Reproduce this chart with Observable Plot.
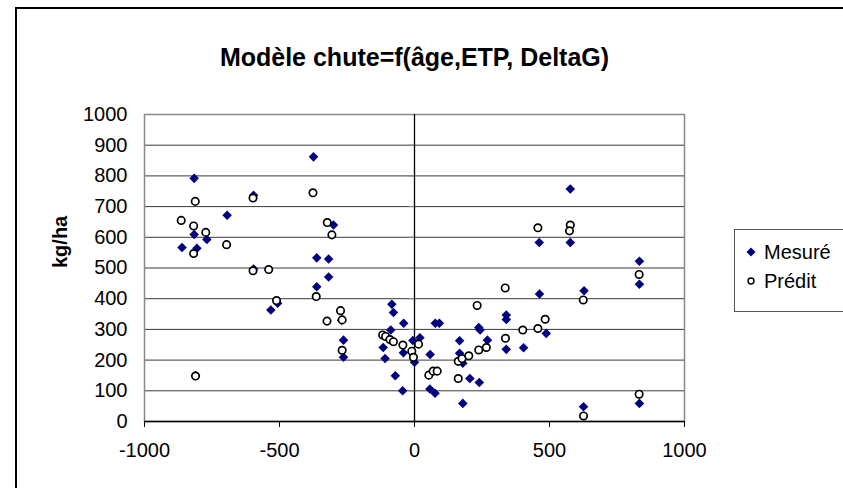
<!DOCTYPE html>
<html>
<head>
<meta charset="utf-8">
<script src="https://cdn.jsdelivr.net/npm/d3@7"></script>
<script src="https://cdn.jsdelivr.net/npm/@observablehq/plot@0.6"></script>
<style>
  html, body { margin: 0; padding: 0; background: #fff; overflow: hidden; }
  #wrap { position: relative; width: 843px; height: 488px; font-family: "Liberation Sans", Arial, sans-serif; }
  #outer { position: absolute; left: 15px; top: 7px; width: 900px; height: 600px; border-left: 2px solid #000; border-top: 2px solid #000; box-sizing: border-box; }
  #legend { position: absolute; left: 734px; top: 229px; width: 130px; height: 83px; border: 1px solid #555; box-sizing: border-box; background: #fff; }
  .item { position: absolute; left: 0; height: 26px; display: flex; align-items: center; font-size: 20px; }
  .item svg { margin-left: 10px; margin-right: 7px; }
</style>
</head>
<body>
<div id="wrap">
  <div id="outer"></div>
  <div id="chart"></div>
  <div id="legend"></div>
</div>
<script>
const title = "Modèle chute=f(âge,ETP, DeltaG)";
const yLabel = "kg/ha";
const seriesNames = ["Mesuré", "Prédit"];
const xTicks = [-1000, -500, 0, 500, 1000];
const yTicks = [0, 100, 200, 300, 400, 500, 600, 700, 800, 900, 1000];

// Mesuré (x, y)
const mesureX = [-816, -596, -694, -374, -300, -816, -769, -861, -806, -362, -318, -318, -362, -596, -532, -507, -270, -263, -263, -811,
  -84, -78, -40, -88, -116, -109, -71, -44, -41, -6, 0, 20, 58, 77, 92, 57, 76, 167, 167, 179, 179, 205, 240, 238, 243, 270, 340, 340, 340, 404, 463, 488,
  577, 462, 577, 833, 833, 628, 626, 833];
const mesureY = [792, 737, 672, 862, 640, 609, 593, 567, 564, 533, 529, 471, 439, 497, 363, 385, 330, 265, 209, 150,
  382, 355, 320, 298, 241, 205, 149, 100, 224, 264, 193, 273, 218, 320, 320, 106, 92, 263, 222, 190, 59, 140, 127, 306, 298, 265, 347, 332, 235, 240, 415, 287,
  757, 583, 583, 522, 447, 426, 48, 59];

// Prédit (x, y)
const preditX = [-812, -864, -818, -773, -818, -696, -598, -598, -540, -511, -376, -323, -306, -364, -324, -274, -268, -268, -811,
  -118, -107, -91, -78, -43, -10, -4, 15, 53, 69, 84, 162, 162, 176, 201, 232, 238, 266, 336, 337, 401, 457, 484,
  457, 577, 574, 832, 625, 626, 832];
const preditY = [717, 655, 637, 616, 547, 576, 728, 491, 495, 394, 745, 648, 608, 407, 327, 361, 331, 232, 148,
  282, 277, 267, 260, 249, 229, 209, 252, 151, 164, 164, 140, 196, 205, 214, 378, 233, 241, 435, 271, 298, 303, 333,
  631, 640, 621, 479, 396, 18, 89];

const mesure = mesureX.map((x, i) => ({x, y: mesureY[i]}));
const predit = preditX.map((x, i) => ({x, y: preditY[i]}));
const font = "'Liberation Sans', Arial, sans-serif";

const chart = Plot.plot({
  width: 843,
  height: 488,
  marginLeft: 144,
  marginRight: 159,
  marginTop: 114,
  marginBottom: 67,
  style: {fontFamily: font, fontSize: "20px", color: "#000", background: "transparent"},
  x: {domain: [-1000, 1000]},
  y: {domain: [0, 1000]},
  marks: [
    Plot.gridY(yTicks.filter(d => d > 0 && d < 1000), {stroke: "#000", strokeOpacity: 0.78, strokeWidth: 1}),
    Plot.frame({stroke: "#888", strokeWidth: 1.5}),
    Plot.ruleX([0], {stroke: "#000", strokeWidth: 1.3}),
    Plot.ruleY(yTicks, {x1: -19, x2: 0, stroke: "#888"}),
    Plot.ruleY([0], {stroke: "#000", strokeWidth: 1.5}),
    Plot.axisY({ticks: yTicks, tickSize: 0, tickPadding: 17, tickFormat: d => String(d), fontSize: 20, label: null}),
    Plot.axisX({ticks: xTicks, tickSize: 6, tickPadding: 15, tickFormat: d => String(d), fontSize: 20, label: null, stroke: "#000"}),
    Plot.dot(mesure, {x: "x", y: "y", symbol: "diamond2", r: 4.3, fill: "#000080", stroke: "none"}),
    Plot.dot(predit, {x: "x", y: "y", symbol: "circle", r: 3.7, fill: "#fff", stroke: "#000", strokeWidth: 1.7}),
    Plot.text([title], {frameAnchor: "top", dy: -66, fontSize: 25, fontWeight: "bold"}),
    Plot.text([yLabel], {frameAnchor: "left", dx: -84, rotate: -90, fontSize: 20, fontWeight: "bold"})
  ]
});
document.getElementById("chart").appendChild(chart);

const legend = document.getElementById("legend");
const sym = [
  '<svg width="12" height="12" viewBox="-6 -6 12 12"><path d="M0,-4.5L4.5,0L0,4.5L-4.5,0Z" fill="#000080"/></svg>',
  '<svg width="12" height="12" viewBox="-6 -6 12 12"><circle r="3" fill="#fff" stroke="#000" stroke-width="1.4"/></svg>'
];
seriesNames.forEach((name, i) => {
  const d = document.createElement("div");
  d.className = "item";
  d.style.top = (i === 0 ? 9 : 38) + "px";
  d.innerHTML = sym[i] + "<span>" + name + "</span>";
  legend.appendChild(d);
});
</script>
</body>
</html>
